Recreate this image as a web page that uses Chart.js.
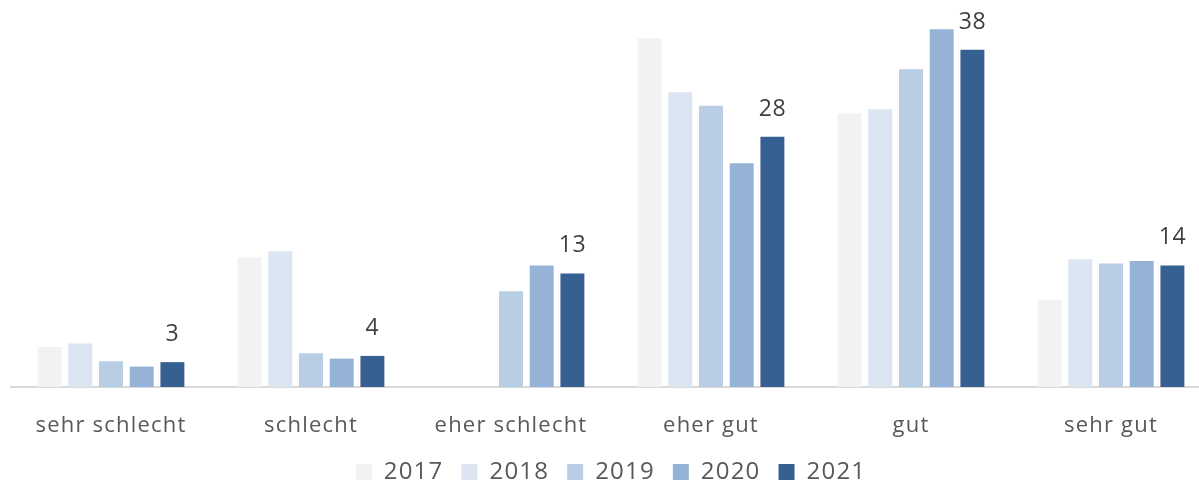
<!DOCTYPE html>
<html>
<head>
<meta charset="utf-8">
<script src="https://cdn.jsdelivr.net/npm/chart.js@4"></script>
<style>
  html, body { margin: 0; padding: 0; background: #fff; }
  #wrap { width: 1199px; height: 484px; overflow: hidden; position: relative; }
  #box { width: 1222px; height: 494px; position: absolute; left: 0; top: 0; }
</style>
</head>
<body>
<div id="wrap"><div id="box"><canvas id="chart"></canvas></div></div>
<script>
  // --- Data ---
  const categories = ['sehr schlecht', 'schlecht', 'eher schlecht', 'eher gut', 'gut', 'sehr gut'];
  const years = ['2017', '2018', '2019', '2020', '2021'];
  const values2017 = [4.5, 14.6, 0, 39.3, 30.8, 9.8];
  const values2018 = [4.9, 15.3, 0, 33.2, 31.3, 14.4];
  const values2019 = [2.9, 3.8, 10.8, 31.7, 35.8, 13.9];
  const values2020 = [2.3, 3.2, 13.7, 25.2, 40.3, 14.2];
  const values2021 = [2.8, 3.5, 12.8, 28.2, 38.0, 13.7];
  const colors = ['#f2f2f2', '#dce6f2', '#b9cde5', '#95b3d7', '#366092'];

  const FONT = "'Open Sans', 'DejaVu Sans', sans-serif";
  const series = [values2017, values2018, values2019, values2020, values2021];

  // the reference text is set a little wider than plain Open Sans
  const spacing = {
    id: 'spacing',
    beforeLayout(chart) { chart.ctx.letterSpacing = '1.2px'; },
    beforeDraw(chart) { chart.ctx.letterSpacing = '1.2px'; },
  };

  // labels above the last series only
  const lastSeriesLabels = {
    id: 'lastSeriesLabels',
    afterDatasetsDraw(chart) {
      const idx = chart.data.datasets.length - 1;
      const meta = chart.getDatasetMeta(idx);
      const ctx = chart.ctx;
      ctx.save();
      ctx.letterSpacing = '0.5px';
      ctx.font = '23px ' + FONT;
      ctx.fillStyle = '#404040';
      ctx.textAlign = 'center';
      ctx.textBaseline = 'alphabetic';
      meta.data.forEach((bar, i) => {
        const v = chart.data.datasets[idx].data[i];
        ctx.fillText(String(Math.round(v)), bar.x, bar.y - 21);
      });
      ctx.restore();
    },
  };

  new Chart(document.getElementById('chart'), {
    type: 'bar',
    data: {
      labels: categories,
      datasets: series.map((data, i) => ({
        label: years[i],
        data,
        backgroundColor: colors[i],
        borderWidth: 0,
        categoryPercentage: 0.7675,
        barPercentage: 0.78,
      })),
    },
    options: {
      responsive: true,
      maintainAspectRatio: false,
      animation: false,
      layout: { padding: { left: 11, right: 11, top: 0, bottom: 0 } },
      scales: {
        x: {
          grid: { display: false, drawTicks: false },
          border: { display: true, color: '#d9d9d9', width: 2 },
          ticks: { color: '#595959', font: { family: FONT, size: 22 }, padding: 26 },
          afterFit(scale) { scale.height = 55; },
        },
        y: {
          display: false,
          min: 0,
          max: 43.6,
        },
      },
      plugins: {
        legend: {
          position: 'bottom',
          labels: {
            color: '#595959',
            font: { family: FONT, size: 24 },
            boxWidth: 16,
            boxHeight: 16,
            padding: 18,
          },
        },
        tooltip: { enabled: false },
      },
    },
    plugins: [spacing, lastSeriesLabels],
  });
</script>
</body>
</html>
